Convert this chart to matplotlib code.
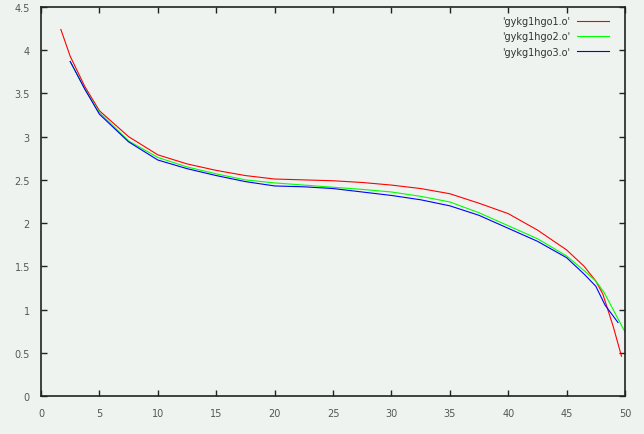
import matplotlib
matplotlib.use("Agg")
import matplotlib.pyplot as plt

# Data
x_red = [1.7, 2.5, 3.75, 5, 7.5, 10, 12.5, 15, 17.5, 20, 22.5, 25, 27.5, 30, 32.5,
         35, 37.5, 40, 42.5, 45, 46.5, 47.5, 48.1, 49.0, 49.7]
y_red = [4.24, 3.93, 3.58, 3.30, 3.00, 2.79, 2.685, 2.61, 2.55, 2.51, 2.50, 2.49, 2.47,
         2.44, 2.40, 2.34, 2.23, 2.11, 1.92, 1.69, 1.50, 1.33, 1.18, 0.80, 0.46]

x_green = [2.5, 3.75, 5, 7.5, 10, 12.5, 15, 17.5, 20, 22.5, 25, 27.5, 30, 32.5,
           35, 37.5, 40, 42.5, 45, 46.5, 47.5, 48.2, 50]
y_green = [3.87, 3.55, 3.28, 2.95, 2.76, 2.65, 2.57, 2.50, 2.465, 2.44, 2.415, 2.39,
           2.36, 2.31, 2.245, 2.12, 1.97, 1.82, 1.62, 1.45, 1.33, 1.20, 0.74]

x_blue = [2.5, 3.75, 5, 7.5, 10, 12.5, 15, 17.5, 20, 22.5, 25, 27.5, 30, 32.5,
          35, 37.5, 40, 42.5, 45, 46.5, 47.5, 48.3, 49.4]
y_blue = [3.87, 3.55, 3.26, 2.94, 2.73, 2.63, 2.55, 2.48, 2.43, 2.42, 2.40, 2.36,
          2.32, 2.27, 2.20, 2.09, 1.94, 1.79, 1.60, 1.41, 1.27, 1.05, 0.85]

labels = ["'gykg1hgo1.o'", "'gykg1hgo2.o'", "'gykg1hgo3.o'"]
colors = ["#ff0000", "#00ff00", "#0000ff"]

xticks = [0, 5, 10, 15, 20, 25, 30, 35, 40, 45, 50]
yticks = [0, 0.5, 1, 1.5, 2, 2.5, 3, 3.5, 4, 4.5]

bg = "#eff3ef"
fig = plt.figure(figsize=(6.44, 4.35), dpi=100, facecolor=bg)
ax = fig.add_axes([41/644, 38/435, 584/644, 389/435], facecolor=bg)

for xs, ys, lab, c in zip([x_red, x_green, x_blue], [y_red, y_green, y_blue], labels, colors):
    ax.plot(xs, ys, color=c, lw=0.8, label=lab)

ax.set_xlim(0, 50)
ax.set_ylim(0, 4.5)
ax.set_xticks(xticks)
ax.set_yticks(yticks)
ax.set_xticklabels([str(v) for v in xticks])
ax.set_yticklabels(["0", "0.5", "1", "1.5", "2", "2.5", "3", "3.5", "4", "4.5"])
ax.tick_params(direction="in", length=4, width=1, top=True, right=True,
               labelsize=7, labelcolor="#555555", color="#222222")
ax.tick_params(axis="x", pad=9)
ax.tick_params(axis="y", pad=8)
for s in ax.spines.values():
    s.set_linewidth(1.2)
    s.set_color("#222222")

leg = ax.legend(loc="upper right", frameon=False, markerfirst=False, fontsize=7,
                handlelength=3.3, handletextpad=0.7, labelspacing=0.55,
                bbox_to_anchor=(0.9726, 0.977), borderaxespad=0, borderpad=0)
for t in leg.get_texts():
    t.set_color("#333333")

fig.savefig("out.png", dpi=100, facecolor=bg)
